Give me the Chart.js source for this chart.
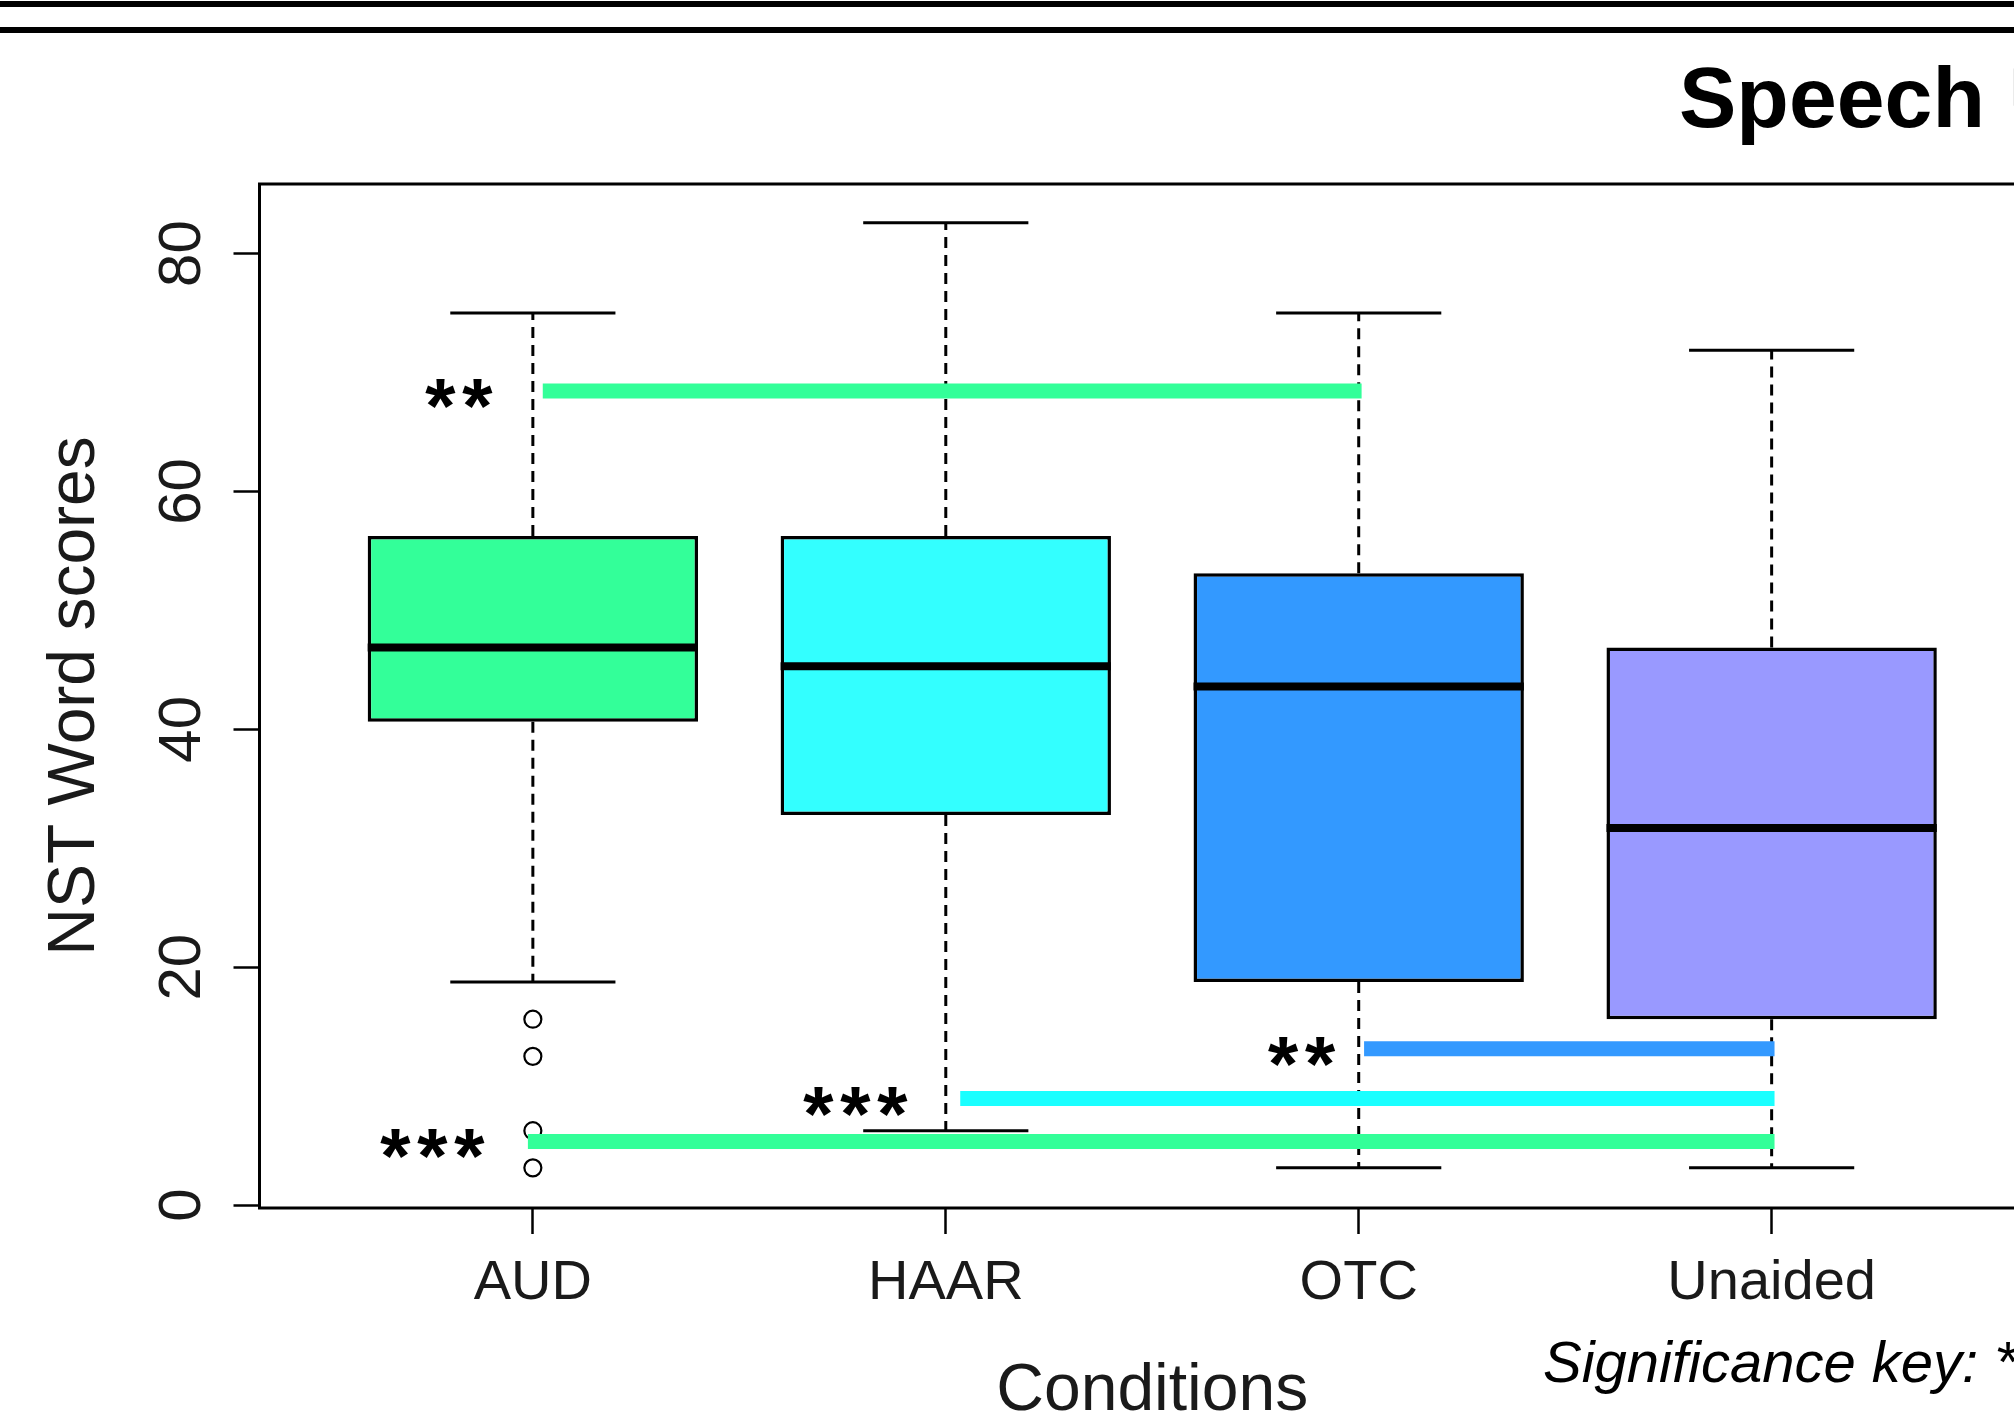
<!DOCTYPE html>
<html>
<head>
<meta charset="utf-8">
<script src="https://cdn.jsdelivr.net/npm/chart.js@4.4.1/dist/chart.umd.min.js"></script>
<style>
  html, body { margin: 0; padding: 0; background: #fff; overflow: hidden; }
  #wrap { width: 2014px; height: 1426px; overflow: hidden; position: relative; }
  #chart { display: block; }
</style>
</head>
<body>
<div id="wrap"><canvas id="chart" width="2120" height="1426"></canvas></div>
<script>
// Data
const categories = ['AUD', 'HAAR', 'OTC', 'Unaided'];
const whiskerLow = [18.75, 6.25, 3.125, 3.125];
const q1 = [40.625, 32.8, 18.75, 15.625];
const medians = [46.875, 45.3, 43.6, 31.7];
const q3 = [56.25, 56.25, 53.125, 46.875];
const whiskerHigh = [75, 82.6, 75, 71.875];

// Outliers: category position and value
const outlierCat = [1, 1, 1, 1];
const outlierVals = [15.625, 12.5, 6.25, 3.125];

// Significance bars between conditions
const sigFrom = [1.024, 3.013, 2.035, 0.988];
const sigTo = [3.007, 4.007, 4.007, 4.007];
const sigLevel = [68.45, 13.15, 8.95, 5.35];
const sigStars = ['**', '**', '***', '***'];
const sigLabelX = [0.903, 2.944, 1.908, 0.884];

// Styles
const boxColors = ['#33FF99', '#33FFFF', '#3399FF', '#9999FF'];
const sigColors = ['#33FF99', '#3399FF', '#1AFFFF', '#33FF99'];
const BOX_HALF = 0.4;
const CAP_HALF = 0.2;
const STAR_STEP = 37;
const SANS = '"Liberation Sans", Arial, sans-serif';

Chart.defaults.font.family = SANS;

// Build segment lists (null y breaks the line)
const whiskerData = [];
const capData = [];
const medianData = [];
categories.forEach((c, i) => {
    const x = i + 1;
    whiskerData.push({ x, y: q3[i] }, { x, y: whiskerHigh[i] }, { x, y: null },
                     { x, y: q1[i] }, { x, y: whiskerLow[i] }, { x, y: null });
    capData.push({ x: x - CAP_HALF, y: whiskerHigh[i] }, { x: x + CAP_HALF, y: whiskerHigh[i] }, { x, y: null },
                 { x: x - CAP_HALF, y: whiskerLow[i] }, { x: x + CAP_HALF, y: whiskerLow[i] }, { x, y: null });
    medianData.push({ x: x - BOX_HALF, y: medians[i] }, { x: x + BOX_HALF, y: medians[i] }, { x, y: null });
});

const sigDatasets = sigLevel.map((lvl, i) => ({
    type: 'line',
    data: [{ x: sigFrom[i], y: lvl }, { x: sigTo[i], y: lvl }],
    borderColor: sigColors[i],
    borderWidth: 15,
    borderCapStyle: 'butt',
    pointRadius: 0,
    order: 1
}));

function inkOffset(ctx, text) {
    const m = ctx.measureText(text);
    return (m.actualBoundingBoxAscent - m.actualBoundingBoxDescent) / 2;
}

// Frame, rules, labels
const decor = {
    id: 'decor',
    beforeDraw(chart) {
        const ctx = chart.ctx;
        ctx.save();
        ctx.fillStyle = '#fff';
        ctx.fillRect(0, 0, chart.width, chart.height);
        ctx.fillStyle = '#000';
        ctx.fillRect(0, 1, chart.width, 6);
        ctx.fillRect(0, 27, chart.width, 6);
        ctx.restore();
    },
    afterDatasetsDraw(chart) {
        const ctx = chart.ctx;
        const xs = chart.scales.x, ys = chart.scales.y;
        ctx.save();
        ctx.fillStyle = '#000';
        ctx.font = 'bold 78px "Liberation Mono", monospace';
        ctx.textAlign = 'center';
        const m = ctx.measureText('*');
        const half = (m.actualBoundingBoxRight + m.actualBoundingBoxLeft) / 2;
        sigStars.forEach((s, i) => {
            const right = xs.getPixelForValue(sigLabelX[i]);
            const cy = ys.getPixelForValue(sigLevel[i]) + 3;
            const n = s.length;
            for (let k = 0; k < n; k++) {
                const cx = right - half - (n - 1 - k) * STAR_STEP;
                ctx.fillText('*', cx, cy + inkOffset(ctx, '*'));
            }
        });
        ctx.restore();
    },
    afterDraw(chart) {
        const ctx = chart.ctx;
        const a = chart.chartArea;
        const ys = chart.scales.y;
        ctx.save();
        ctx.strokeStyle = '#000';
        ctx.lineWidth = 3;
        ctx.strokeRect(a.left, a.top, a.right - a.left, a.bottom - a.top);

        // y tick labels, rotated
        ctx.fillStyle = '#1a1a1a';
        ctx.font = '60px ' + SANS;
        ctx.textAlign = 'center';
        ys.ticks.forEach(t => {
            const label = String(t.value);
            ctx.save();
            ctx.translate(179, ys.getPixelForValue(t.value));
            ctx.rotate(-Math.PI / 2);
            ctx.fillText(label, 0, inkOffset(ctx, label));
            ctx.restore();
        });

        // y axis title
        ctx.font = '66px ' + SANS;
        const yTitle = 'NST Word scores';
        ctx.save();
        ctx.translate(70, (a.top + a.bottom) / 2);
        ctx.rotate(-Math.PI / 2);
        ctx.fillText(yTitle, 0, inkOffset(ctx, yTitle));
        ctx.restore();

        // x axis title
        ctx.font = '66px ' + SANS;
        const xTitle = 'Conditions';
        ctx.fillText(xTitle, (a.left + a.right) / 2, 1387 + inkOffset(ctx, 'C'));

        // main title (cropped at the right edge)
        ctx.fillStyle = '#000';
        ctx.textAlign = 'left';
        ctx.font = 'bold 86px ' + SANS;
        ctx.fillText('Speech Understanding', 1679, 127);

        // significance key (cropped)
        ctx.font = 'italic 58px ' + SANS;
        ctx.fillText('Significance key: * p < 0.05', 1543, 1382);
        ctx.restore();
    }
};

new Chart(document.getElementById('chart'), {
    type: 'bar',
    data: {
        datasets: [
            ...sigDatasets,
            {
                type: 'scatter',
                data: outlierVals.map((v, i) => ({ x: outlierCat[i], y: v })),
                pointStyle: 'circle',
                pointRadius: 8.5,
                pointBackgroundColor: '#fff',
                pointBorderColor: '#000',
                pointBorderWidth: 2.2,
                order: 2
            },
            {
                type: 'line',
                data: medianData,
                borderColor: '#000',
                borderWidth: 8,
                borderCapStyle: 'butt',
                pointRadius: 0,
                spanGaps: false,
                order: 3
            },
            {
                type: 'line',
                data: capData,
                borderColor: '#000',
                borderWidth: 3,
                pointRadius: 0,
                spanGaps: false,
                order: 4
            },
            {
                type: 'bar',
                data: categories.map((c, i) => ({ x: i + 1, y: [q1[i], q3[i]] })),
                backgroundColor: boxColors,
                borderColor: '#000',
                borderWidth: 3.5,
                borderSkipped: false,
                categoryPercentage: 0.8,
                barPercentage: 1,
                order: 5
            },
            {
                type: 'line',
                data: whiskerData,
                borderColor: '#000',
                borderWidth: 3,
                borderDash: [11, 7],
                pointRadius: 0,
                spanGaps: false,
                order: 6
            }
        ]
    },
    options: {
        responsive: false,
        animation: false,
        devicePixelRatio: 1,
        layout: { padding: { left: 233.5, top: 184, right: 75, bottom: 92.8 } },
        plugins: {
            legend: { display: false },
            tooltip: { enabled: false },
            title: { display: false }
        },
        scales: {
            x: {
                type: 'linear',
                min: 0.338,
                max: 4.662,
                offset: false,
                border: { display: false },
                grid: { offset: false, drawOnChartArea: false, drawTicks: true, tickLength: 26, tickWidth: 2.5, tickColor: '#000' },
                ticks: {
                    stepSize: 1,
                    includeBounds: false,
                    autoSkip: false,
                    maxRotation: 0,
                    padding: 16,
                    color: '#1a1a1a',
                    font: { size: 56 },
                    callback: v => categories[v - 1] || ''
                }
            },
            y: {
                min: -0.25,
                max: 85.85,
                border: { display: false },
                grid: { drawOnChartArea: false, drawTicks: true, tickLength: 26, tickWidth: 2.5, tickColor: '#000' },
                ticks: { display: false, stepSize: 20, includeBounds: false }
            }
        }
    },
    plugins: [decor]
});
</script>
</body>
</html>
